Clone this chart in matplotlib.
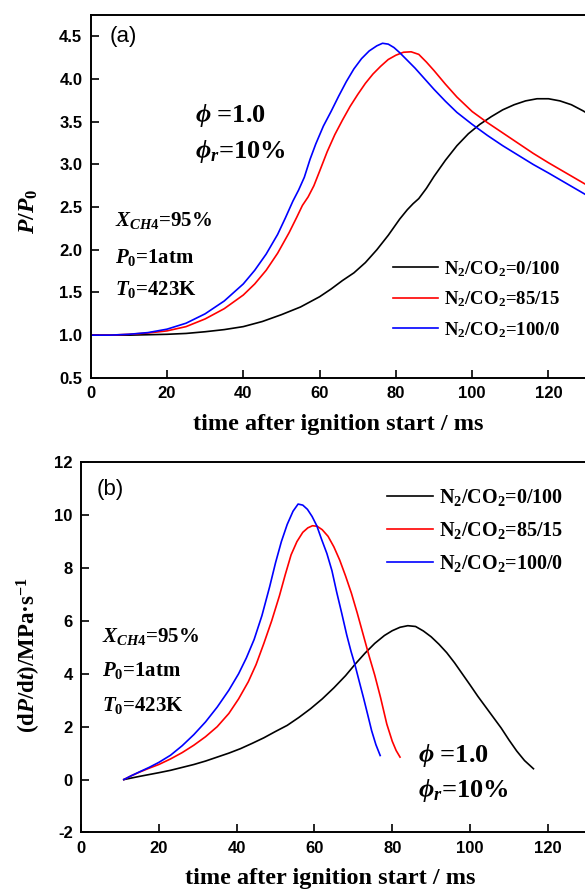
import numpy as np
import matplotlib
matplotlib.use("Agg")
import matplotlib.pyplot as plt

plt.rcParams['font.family'] = 'Liberation Serif'
plt.rcParams['font.weight'] = 'bold'
plt.rcParams['axes.labelweight'] = 'bold'
plt.rcParams['mathtext.fontset'] = 'custom'
plt.rcParams['mathtext.rm'] = 'Liberation Serif:bold'
plt.rcParams['mathtext.it'] = 'Liberation Serif:italic:bold'
plt.rcParams['mathtext.bf'] = 'Liberation Serif:bold'

# (a) normalised pressure P/P0 vs time (ms)
t_a_0_100 = [0, 5, 10, 15, 20, 25, 30, 35, 40, 45, 50, 55, 60, 63, 66, 69, 72, 75, 78, 81,
             83, 84.5, 86, 88, 90, 93, 96, 99, 102, 105, 108, 111, 114, 117, 120, 123, 126,
             129, 132, 136, 140]
p_a_0_100 = [1.00, 1.00, 1.00, 1.005, 1.01, 1.02, 1.04, 1.065, 1.10, 1.16, 1.24, 1.33, 1.45,
             1.54, 1.64, 1.73, 1.85, 2.00, 2.17, 2.36, 2.47, 2.54, 2.60, 2.72, 2.86, 3.05,
             3.22, 3.36, 3.47, 3.56, 3.64, 3.70, 3.745, 3.77, 3.77, 3.745, 3.70, 3.63, 3.55,
             3.43, 3.30]

t_a_85_15 = [0, 5, 10, 15, 20, 25, 30, 35, 40, 43, 46, 49, 52, 54, 55.5, 57, 58.5, 60, 62,
             64, 66, 68, 70, 72, 74, 76, 78, 80, 82, 84, 86, 88, 90, 93, 96, 100, 104, 108,
             112, 116, 120, 125, 130, 135, 140]
p_a_85_15 = [1.00, 1.00, 1.01, 1.025, 1.05, 1.10, 1.19, 1.31, 1.47, 1.60, 1.76, 1.96, 2.20,
             2.38, 2.52, 2.62, 2.75, 2.92, 3.15, 3.35, 3.52, 3.68, 3.82, 3.95, 4.06, 4.15,
             4.23, 4.28, 4.315, 4.32, 4.29, 4.20, 4.10, 3.94, 3.79, 3.62, 3.49, 3.37, 3.25,
             3.13, 3.02, 2.89, 2.76, 2.63, 2.50]

t_a_100_0 = [0, 5, 10, 15, 20, 25, 30, 35, 40, 43, 46, 49, 51, 53, 54.5, 56, 57.5, 59, 61,
             63, 65, 67, 69, 71, 73, 75, 76.5, 78, 79.5, 81, 83, 85, 87, 90, 93, 96, 100,
             104, 108, 112, 116, 120, 125, 130, 135, 140]
p_a_100_0 = [1.00, 1.00, 1.01, 1.03, 1.07, 1.14, 1.25, 1.40, 1.60, 1.76, 1.95, 2.18, 2.37,
             2.57, 2.70, 2.85, 3.06, 3.24, 3.45, 3.62, 3.80, 3.97, 4.12, 4.24, 4.33, 4.39,
             4.42, 4.41, 4.37, 4.31, 4.22, 4.13, 4.03, 3.88, 3.74, 3.61, 3.47, 3.34, 3.22,
             3.11, 3.00, 2.90, 2.77, 2.64, 2.51, 2.38]

# (b) pressure rise rate dP/dt (MPa/s) vs time (ms)
t_b_0_100 = [11, 13, 15, 17.5, 20, 23, 26, 29, 32, 35, 38, 41, 44, 47, 50, 53, 56, 59, 62,
             65, 68, 70.5, 73, 75.5, 78, 80, 82, 84, 86, 88, 90, 92, 94, 96, 98, 100, 102,
             104, 106, 108, 110, 112, 114, 116.3]
r_b_0_100 = [0.00, 0.06, 0.12, 0.19, 0.26, 0.35, 0.46, 0.57, 0.70, 0.85, 1.00, 1.17, 1.37,
             1.58, 1.82, 2.05, 2.35, 2.68, 3.05, 3.47, 3.93, 4.37, 4.78, 5.15, 5.45, 5.63,
             5.76, 5.82, 5.79, 5.62, 5.40, 5.12, 4.80, 4.42, 4.00, 3.58, 3.15, 2.75, 2.35,
             1.95, 1.50, 1.08, 0.72, 0.41]

t_b_85_15 = [11, 13, 15, 17.5, 20, 23, 26, 29, 32, 35, 38, 40.5, 43, 45, 47, 49, 51, 52.5,
             54, 55.5, 57, 58.3, 59.5, 60.7, 62, 63.5, 65, 66.5, 68, 69.5, 71, 72.5, 74,
             75.5, 77, 78.6, 80, 81, 82]
r_b_85_15 = [0.00, 0.15, 0.28, 0.43, 0.57, 0.78, 1.02, 1.30, 1.62, 2.00, 2.50, 3.05, 3.70,
             4.35, 5.15, 6.00, 6.95, 7.75, 8.50, 9.00, 9.35, 9.52, 9.60, 9.58, 9.45, 9.20,
             8.80, 8.30, 7.70, 7.05, 6.30, 5.50, 4.70, 3.95, 3.10, 2.10, 1.45, 1.10, 0.85]

t_b_100_0 = [11, 13, 15, 17.5, 20, 23, 26, 29, 32, 35, 38, 40.5, 42.5, 44.5, 46.5, 48.5, 50,
             51.5, 53, 54.5, 55.8, 57, 58.2, 59.4, 60.6, 61.8, 63.2, 64.5, 65.7, 67, 68.3,
             69.4, 70.4, 71.5, 72.6, 73.7, 74.7, 75.8, 76.9]
r_b_100_0 = [0.00, 0.15, 0.29, 0.46, 0.65, 0.92, 1.28, 1.70, 2.18, 2.74, 3.38, 4.00, 4.60,
             5.30, 6.20, 7.30, 8.20, 9.00, 9.65, 10.15, 10.42, 10.38, 10.22, 9.95, 9.60,
             9.10, 8.55, 7.90, 7.10, 6.30, 5.47, 4.85, 4.35, 3.72, 3.10, 2.45, 1.85, 1.32,
             0.91]

labels = [r'N$_2$/CO$_2$=0/100', r'N$_2$/CO$_2$=85/15', r'N$_2$/CO$_2$=100/0']
colors = ['black', 'red', 'blue']

x_ticks = [0, 20, 40, 60, 80, 100, 120]
a_y_ticks = [0.5, 1.0, 1.5, 2.0, 2.5, 3.0, 3.5, 4.0, 4.5]
b_y_ticks = [-2, 0, 2, 4, 6, 8, 10, 12]

tick_font = dict(family='Liberation Sans', weight='bold', size=12)


def style_axes(ax, yticks, yfmt):
    ax.set_xlim(0, 140)
    ax.set_xticks(x_ticks)
    ax.set_yticks(yticks)
    ax.set_xticklabels([str(v) for v in x_ticks], fontdict=tick_font)
    ax.set_yticklabels([yfmt.format(v) for v in yticks], fontdict=tick_font)
    ax.tick_params(direction='in', length=6, width=1.2, pad=6)
    for s in ax.spines.values():
        s.set_linewidth(1.4)


fig = plt.figure(figsize=(5.85, 8.89), dpi=100)

# panel (a)
ax1 = fig.add_axes([0.155, 0.575, 0.913, 0.408])
ax1.plot(t_a_0_100, p_a_0_100, color=colors[0], lw=1.2, label=labels[0])
ax1.plot(t_a_85_15, p_a_85_15, color=colors[1], lw=1.2, label=labels[1])
ax1.plot(t_a_100_0, p_a_100_0, color=colors[2], lw=1.2, label=labels[2])
ax1.set_ylim(0.5, 4.75)
style_axes(ax1, a_y_ticks, '{:.1f}')
ax1.set_xlabel('time after ignition start / ms', fontsize=17.5, fontweight='bold')
ax1.xaxis.set_label_coords(0.463, -0.1)
ax1.set_ylabel(r'$P/P_{\mathit{0}}$', fontsize=17)
ax1.yaxis.set_label_coords(-0.095, 0.46)
ax1.text(5, 4.5, '(a)', family='Liberation Sans', weight='normal', fontsize=16,
         ha='left', va='center')
ax1.text(27.3, 3.5, r'$\phi$ =1.0', fontsize=19, va='baseline')
ax1.text(27.3, 3.08, r'$\phi_r$=10%', fontsize=19, va='baseline')
ax1.text(6.4, 2.28, r'$X_{CH4}$=95%', fontsize=15, va='baseline')
ax1.text(6.4, 1.85, r'$P_{\mathit{0}}$=1atm', fontsize=15, va='baseline')
ax1.text(6.4, 1.47, r'$T_{\mathit{0}}$=423K', fontsize=15, va='baseline')
ax1.legend(loc='upper left', bbox_to_anchor=(0.566, 0.328), frameon=False, fontsize=13.5,
           handlelength=2.4, handletextpad=0.3, labelspacing=0.58, borderpad=0,
           borderaxespad=0)

# panel (b)
ax2 = fig.add_axes([0.1385, 0.0636, 0.931, 0.4164])
ax2.plot(t_b_0_100, r_b_0_100, color=colors[0], lw=1.2, label=labels[0])
ax2.plot(t_b_85_15, r_b_85_15, color=colors[1], lw=1.2, label=labels[1])
ax2.plot(t_b_100_0, r_b_100_0, color=colors[2], lw=1.2, label=labels[2])
ax2.set_ylim(-2, 12)
style_axes(ax2, b_y_ticks, '{:d}')
ax2.set_xlabel('time after ignition start / ms', fontsize=17.5, fontweight='bold')
ax2.xaxis.set_label_coords(0.457, -0.095)
ax2.set_ylabel(r'(d$P$/d$t$)/MPa·s$^{\mathbf{-1}}$', fontsize=16.5, fontweight='bold')
ax2.yaxis.set_label_coords(-0.07, 0.48)
ax2.text(4.1, 10.96, '(b)', family='Liberation Sans', weight='normal', fontsize=16,
         ha='left', va='center')
ax2.text(5.4, 5.22, r'$X_{CH4}$=95%', fontsize=15, va='baseline')
ax2.text(5.4, 3.91, r'$P_{\mathit{0}}$=1atm', fontsize=15, va='baseline')
ax2.text(5.4, 2.60, r'$T_{\mathit{0}}$=423K', fontsize=15, va='baseline')
ax2.text(86.6, 0.65, r'$\phi$ =1.0', fontsize=19, va='baseline')
ax2.text(86.6, -0.66, r'$\phi_r$=10%', fontsize=19, va='baseline')
ax2.legend(loc='upper left', bbox_to_anchor=(0.562, 0.934), frameon=False, fontsize=14.5,
           handlelength=2.3, handletextpad=0.3, labelspacing=0.6, borderpad=0,
           borderaxespad=0)

fig.savefig('out.png', dpi=100)
